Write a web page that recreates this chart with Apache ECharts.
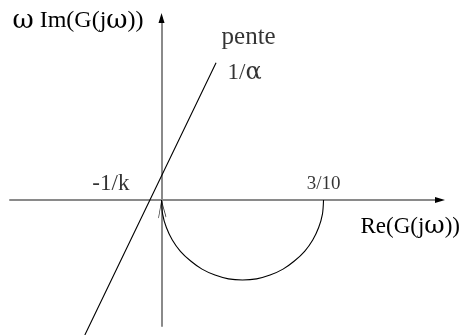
<!DOCTYPE html>
<html>
<head>
<meta charset="utf-8">
<script src="https://cdn.jsdelivr.net/npm/echarts@6/dist/echarts.min.js"></script>
<style>
  html, body { margin: 0; padding: 0; background: #fff; }
  #chart { width: 461px; height: 335px; }
</style>
</head>
<body>
<div id="chart"></div>
<script>
// Popov plot: ω·Im(G(jω)) against Re(G(jω)), with the Popov line of slope 1/α
const nyquistRe = [0, 0.002, 0.009, 0.020, 0.035, 0.054, 0.075, 0.099, 0.124, 0.150,
                   0.176, 0.201, 0.225, 0.246, 0.265, 0.280, 0.291, 0.298, 0.300];
const nyquistIm = [0, -0.026, -0.051, -0.074, -0.095, -0.113, -0.128, -0.139, -0.146, -0.148,
                   -0.146, -0.139, -0.128, -0.113, -0.095, -0.074, -0.051, -0.026, 0];

// Popov line: lower end, crossing of the real axis (-1/k), upper end
const lineRe = [-0.142, -0.0215, 0.101];
const lineIm = [-0.25, 0, 0.254];

const axisTitles = ['Re(G(j{g|ω}))', '{g|ω} Im(G(j{g|ω}))'];
const crossLabel = '-1/k';
const endLabel = '3/10';
const slopeLabel = ['pente', '1/', 'α'];

const xRange = [-0.2806, 0.5157];
const yRange = [-0.2333, 0.3370];

const serif = 'Liberation Serif';
const greek = 'DejaVu Serif';
const zip = (a, b) => a.map((v, i) => [v, b[i]]);

const curveData = zip(nyquistRe, nyquistIm);
const lineData = zip(lineRe, lineIm);
const last = curveData.length - 1;

function axisPair(dim, name, extent) {
  const isX = dim === 'x';
  const base = {
    type: 'value',
    min: extent[0],
    max: extent[1],
    axisTick: { show: false },
    axisLabel: { show: false },
    splitLine: { show: false },
  };
  const size = isX ? 23 : 24;
  const nameStyle = {
    fontFamily: serif, fontSize: size, color: '#000', align: 'right',
    // Greek letters are set in a wider serif face
    rich: { g: { fontFamily: greek, fontSize: isX ? 25 : 26, color: '#000' } }
  };
  // gray axis line
  const lineAxis = Object.assign({}, base, {
    axisLine: {
      show: true, onZero: true, onZeroAxisIndex: 0,
      lineStyle: { color: '#8a8a8a', width: 2 }
    },
    name: name,
    nameLocation: 'end',
    nameMoveOverlap: false,
    nameGap: isX ? 20 : -3,
    nameTextStyle: isX
      ? Object.assign(nameStyle, { verticalAlign: 'top', padding: [14, 0, 0, 0] })
      : Object.assign(nameStyle, { verticalAlign: 'middle', padding: [0, 18, 0, 0] })
  });
  // black arrow head at the end of the axis
  const arrowAxis = Object.assign({}, base, {
    axisLine: {
      show: true, onZero: true, onZeroAxisIndex: 0,
      symbol: ['none', 'triangle'],
      symbolSize: [6, 10],
      lineStyle: { color: '#000', width: 0 }
    }
  });
  return [lineAxis, arrowAxis];
}

const chart = echarts.init(document.getElementById('chart'), null, { renderer: 'canvas' });

chart.setOption({
  animation: false,
  backgroundColor: '#fff',
  grid: { left: 10, top: 18, width: 430, height: 308, containLabel: false, outerBoundsMode: 'none' },
  xAxis: axisPair('x', axisTitles[0], xRange),
  yAxis: axisPair('y', axisTitles[1], yRange),
  series: [
    {
      type: 'line',
      data: curveData,
      smooth: 0.3,
      symbol: 'none',
      silent: true,
      lineStyle: { color: '#000', width: 1.1 }
    },
    {
      type: 'line',
      data: lineData,
      symbol: 'none',
      clip: false,
      silent: true,
      lineStyle: { color: '#000', width: 1.1 }
    },
    {
      // open arrow head at the start of the curve
      type: 'scatter',
      data: [curveData[0]],
      symbol: 'path://M3,0L0,17M3,0L7.5,16',
      symbolSize: [7.5, 17],
      symbolOffset: [0.75, 9.5],
      silent: true,
      itemStyle: { color: 'rgba(0,0,0,0)', borderColor: '#000', borderWidth: 1 }
    },
    {
      // text notes anchored on the curve and the line
      type: 'scatter',
      symbolSize: 1,
      silent: true,
      itemStyle: { color: 'rgba(0,0,0,0)' },
      label: { show: true, fontFamily: serif, color: '#000' },
      data: [
        {
          value: curveData[last],
          label: { formatter: endLabel, position: 'top', distance: 6, fontSize: 19 }
        },
        {
          value: lineData[1],
          label: { formatter: crossLabel, position: [-20, -4], align: 'right', verticalAlign: 'bottom', fontSize: 23 }
        },
        {
          value: lineData[2],
          label: {
            formatter: '{p|' + slopeLabel[0] + '}\n{a|' + slopeLabel[1] + '}{g|' + slopeLabel[2] + '}',
            position: [6, -42], align: 'left', verticalAlign: 'top',
            rich: {
              p: { fontFamily: serif, fontSize: 25, lineHeight: 35, color: '#000' },
              a: { fontFamily: serif, fontSize: 23, lineHeight: 35, color: '#000', padding: [0, 0, 0, 6] },
              g: { fontFamily: greek, fontSize: 24, lineHeight: 35, color: '#000' }
            }
          }
        }
      ]
    }
  ]
});
</script>
</body>
</html>
